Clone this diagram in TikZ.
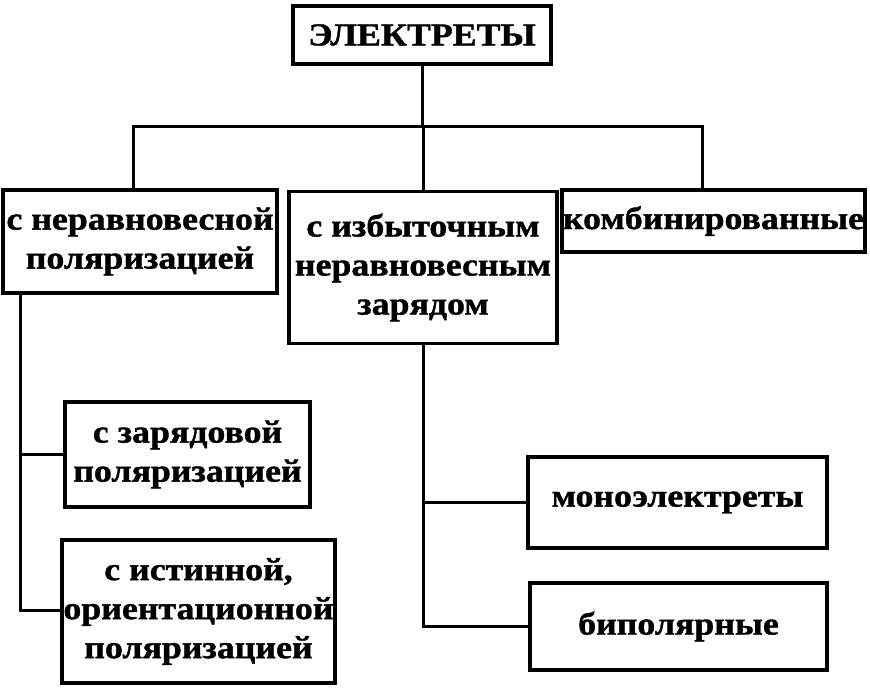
\documentclass[tikz,border=0pt]{standalone}
\usepackage{fontspec}
\setmainfont{Liberation Serif}
\newfontfamily\boxfont{Liberation Serif Bold}[FakeStretch=1.12,FakeBold=1.2]
\begin{document}
\begin{tikzpicture}[x=1pt,y=-1pt,
  box/.style={draw,line width=3.2pt,inner sep=0pt,align=center,
    font=\boxfont\fontsize{32}{39}\selectfont},
  conn/.style={line width=3pt}]
\useasboundingbox (0,0) rectangle (870,698);
\node[box,minimum width=258,minimum height=58] (top) at (422,35) {ЭЛЕКТРЕТЫ};
\node[box,minimum width=274,minimum height=103] (left1) at (140,241.5) {с неравновесной\\поляризацией};
\node[box,minimum width=268,minimum height=152] (mid) at (423,267.5) {с избыточным\\неравновесным\\зарядом};
\node[box,minimum width=303,minimum height=62] (right) at (713.5,221) {комбинированные};
\node[box,minimum width=245,minimum height=105] (zar) at (187.5,454.5) {с зарядовой\\поляризацией};
\node[box,minimum width=273,minimum height=143] (ist) at (198.5,611.5) {с истинной,\\ориентационной\\поляризацией};
\node[box,minimum width=299,minimum height=91] (mono) at (677.5,502.5) {моноэлектреты};
\node[box,minimum width=297,minimum height=87] (bip) at (678.5,626.5) {биполярные};
\coordinate (cL) at (133,127);
\coordinate (cR) at (702,127);
\coordinate (lb) at (20,610);
\coordinate (mb) at (423,0);
\draw[conn] (top.south) -- (top.south |- cL);
\draw[conn] (left1.north -| cL) -- (cL) -- (cR) -- (right.north -| cR);
\draw[conn] (mid.north) -- (mid.north |- cL);
\draw[conn] (lb |- left1.south) -- (lb) -- (lb -| ist.west);
\draw[conn] (lb |- zar.west) -- (zar.west);
\draw[conn] (mid.south) -- (mb |- bip.west) -- (bip.west);
\draw[conn] (mb |- mono.west) -- (mono.west);
\end{tikzpicture}
\end{document}
